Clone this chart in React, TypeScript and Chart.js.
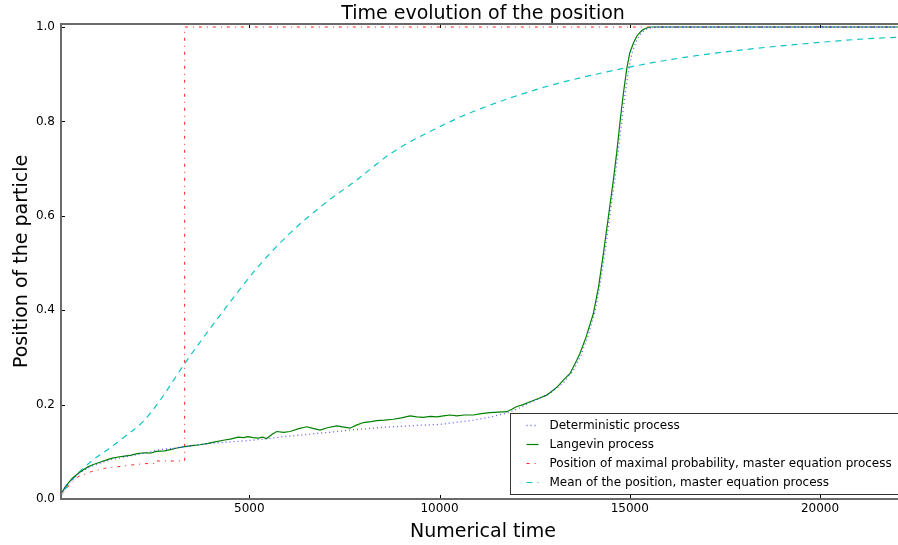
import React, { useEffect, useRef } from "react";
import { Chart, registerables } from "chart.js";

Chart.register(...registerables);

const FONT = "'DejaVu Sans', sans-serif";

const xTicks = [5000, 10000, 15000, 20000];
const yTicks = [0, 0.2, 0.4, 0.6, 0.8, 1.0];

const deterministic: [number, number][] = [
  [0, 0], [60, 0.012], [150, 0.024], [250, 0.034], [500, 0.053], [760, 0.066], [1110, 0.077],
  [1400, 0.084], [1724, 0.089], [2250, 0.097], [2600, 0.104], [3039, 0.108], [3500, 0.113],
  [4001, 0.118], [4500, 0.121], [5018, 0.124], [5500, 0.128], [5894, 0.132], [6400, 0.136],
  [6771, 0.139], [7200, 0.142], [7647, 0.146], [8100, 0.149], [8523, 0.152], [9000, 0.154],
  [9400, 0.156], [10009, 0.158], [10500, 0.163], [10889, 0.167], [11300, 0.173], [11766, 0.182],
  [12050, 0.191], [12292, 0.201], [12600, 0.212], [12905, 0.224], [13255, 0.246], [13518, 0.273],
  [13720, 0.305], [13900, 0.345], [14080, 0.395], [14220, 0.455], [14350, 0.525], [14490, 0.61],
  [14610, 0.68], [14700, 0.74], [14790, 0.8], [14880, 0.86], [14970, 0.91], [15060, 0.945],
  [15150, 0.967], [15250, 0.982], [15350, 0.991], [15450, 0.996], [15600, 0.999], [15750, 1.0],
  [22300, 1.0],
];

const langevin: [number, number][] = [
  [0, 0], [60, 0.012], [150, 0.024], [234, 0.033], [350, 0.044], [497, 0.054], [620, 0.061],
  [760, 0.068], [900, 0.073], [1110, 0.079], [1250, 0.083], [1372, 0.086], [1550, 0.089],
  [1724, 0.091], [1900, 0.093], [2050, 0.096], [2250, 0.098], [2400, 0.097], [2550, 0.101],
  [2775, 0.102], [2950, 0.105], [3100, 0.108], [3301, 0.111], [3500, 0.113], [3700, 0.115],
  [3914, 0.118], [4100, 0.121], [4353, 0.125], [4500, 0.127], [4703, 0.131], [4850, 0.13],
  [4966, 0.132], [5100, 0.13], [5229, 0.129], [5350, 0.131], [5456, 0.128], [5600, 0.137],
  [5720, 0.143], [5900, 0.141], [6070, 0.143], [6300, 0.149], [6509, 0.153], [6650, 0.15],
  [6859, 0.146], [7050, 0.151], [7297, 0.155], [7450, 0.153], [7647, 0.15], [7800, 0.156],
  [7997, 0.162], [8200, 0.164], [8348, 0.166], [8550, 0.167], [8786, 0.169], [9000, 0.172],
  [9225, 0.176], [9400, 0.174], [9575, 0.173], [9750, 0.175], [9926, 0.174], [10100, 0.176],
  [10276, 0.178], [10452, 0.176], [10650, 0.178], [10889, 0.178], [11100, 0.181], [11328, 0.183],
  [11550, 0.184], [11766, 0.185], [11900, 0.19], [12029, 0.196], [12200, 0.2], [12379, 0.206],
  [12600, 0.213], [12817, 0.22], [12992, 0.231], [13100, 0.238], [13255, 0.252], [13430, 0.266],
  [13606, 0.294], [13693, 0.309], [13850, 0.343], [14043, 0.393], [14180, 0.45], [14306, 0.52],
  [14450, 0.605], [14569, 0.676], [14658, 0.735], [14745, 0.8], [14833, 0.86], [14921, 0.912],
  [15000, 0.945], [15096, 0.966], [15180, 0.98], [15272, 0.989], [15360, 0.995], [15447, 0.998],
  [15550, 1.0], [22300, 1.0],
];

const maxProbability: [number, number][] = [
  [0, 0], [100, 0.012], [234, 0.026], [497, 0.047], [847, 0.058], [1198, 0.065], [1504, 0.068],
  [1898, 0.072], [2250, 0.075], [2500, 0.075], [2510, 0.0805], [3300, 0.0805], [3300, 1.0],
  [22300, 1.0],
];

const meanPosition: [number, number][] = [
  [0, 0], [150, 0.02], [410, 0.047], [891, 0.083], [1198, 0.1], [1724, 0.132], [2205, 0.164],
  [2600, 0.203], [3301, 0.287], [4265, 0.393], [5229, 0.492], [6106, 0.566], [6982, 0.626],
  [7857, 0.678], [8733, 0.733], [10009, 0.789], [10889, 0.821], [12642, 0.87], [14395, 0.905],
  [16146, 0.932], [17900, 0.951], [19653, 0.965], [21404, 0.976], [22300, 0.979],
];

const toPts = (arr: [number, number][]) => arr.map(([x, y]) => ({ x, y }));

const framePlugin = {
  id: "frame",
  afterDatasetsDraw(chart: any) {
    const { ctx, chartArea: a, scales } = chart;
    ctx.save();
    ctx.strokeStyle = "#000";
    ctx.lineWidth = 1;
    ctx.beginPath();
    for (const t of scales.x.ticks) {
      const px = Math.round(scales.x.getPixelForValue(t.value)) + 0.5;
      ctx.moveTo(px, a.bottom);
      ctx.lineTo(px, a.bottom - 4);
      ctx.moveTo(px, a.top);
      ctx.lineTo(px, a.top + 4);
    }
    for (const t of scales.y.ticks) {
      const py = Math.round(scales.y.getPixelForValue(t.value)) + 0.5;
      ctx.moveTo(a.left, py);
      ctx.lineTo(a.left + 4, py);
      ctx.moveTo(a.right, py);
      ctx.lineTo(a.right - 4, py);
    }
    ctx.stroke();
    ctx.strokeStyle = "#6a6a6a";
    ctx.lineWidth = 2;
    ctx.strokeRect(a.left, a.top, a.right - a.left, a.bottom - a.top);
    ctx.restore();
  },
  afterDraw(chart: any) {
    const { ctx, chartArea: a } = chart;
    const ds = chart.data.datasets;
    ctx.save();
    ctx.font = `12px ${FONT}`;
    let maxW = 0;
    for (const d of ds) maxW = Math.max(maxW, ctx.measureText(d.label).width);
    const right = a.right - 5;
    const left = Math.round(right - (39 + maxW + 9)) + 0.5;
    const bottom = Math.round(a.bottom - 5) + 0.5;
    const rowH = 19;
    const height = 81;
    const top = bottom - height;
    ctx.fillStyle = "#fff";
    ctx.fillRect(left, top, right - left, height);
    ctx.strokeStyle = "#333";
    ctx.lineWidth = 1;
    ctx.strokeRect(left, top, right - left + 20, height);
    ds.forEach((d: any, i: number) => {
      const y = Math.round(top + 11 + i * rowH) + 0.5;
      ctx.save();
      ctx.strokeStyle = d.borderColor;
      ctx.lineWidth = d.borderWidth;
      ctx.setLineDash(d.borderDash || []);
      ctx.beginPath();
      ctx.moveTo(left + 16, y);
      ctx.lineTo(left + 28, y);
      ctx.stroke();
      ctx.restore();
      ctx.fillStyle = "#000";
      ctx.textBaseline = "middle";
      ctx.textAlign = "left";
      ctx.fillText(d.label, left + 39, y);
    });
    ctx.restore();
  },
};

export default function App() {
  const ref = useRef<HTMLCanvasElement | null>(null);
  useEffect(() => {
    if (!ref.current) return;
    Chart.defaults.font.family = FONT;
    const chart = new Chart(ref.current, {
      type: "line",
      data: {
        datasets: [
          {
            label: "Deterministic process",
            data: toPts(deterministic),
            borderColor: "rgba(40,40,255,0.75)",
            borderWidth: 1.3,
            borderDash: [1, 3],
            pointRadius: 0,
            tension: 0,
          },
          {
            label: "Langevin process",
            data: toPts(langevin),
            borderColor: "#008000",
            borderWidth: 1.2,
            pointRadius: 0,
            tension: 0,
          },
          {
            label: "Position of maximal probability, master equation process",
            data: toPts(maxProbability),
            borderColor: "#ff2020",
            borderWidth: 1,
            borderDash: [3, 5, 1, 5],
            pointRadius: 0,
            tension: 0,
          },
          {
            label: "Mean of the position, master equation process",
            data: toPts(meanPosition),
            borderColor: "#10c4c4",
            borderWidth: 1.2,
            borderDash: [6, 5],
            pointRadius: 0,
            cubicInterpolationMode: "monotone",
          },
        ] as any,
      },
      options: {
        animation: false,
        responsive: false,
        layout: { padding: { left: 0, right: 15, top: 0, bottom: 0 } },
        plugins: {
          legend: { display: false },
          tooltip: { enabled: false },
          title: {
            display: true,
            text: "Time evolution of the position",
            fullSize: false,
            color: "#000",
            font: { family: FONT, size: 19, weight: "normal", lineHeight: 1.0 },
            padding: { top: 5, bottom: 0 },
          },
        },
        scales: {
          x: {
            type: "linear",
            min: 50,
            max: 22234,
            afterBuildTicks: (s: any) => {
              s.ticks = xTicks.map((v) => ({ value: v }));
            },
            afterFit: (s: any) => {
              s.height = 46;
            },
            grid: { display: false, drawTicks: false },
            border: { display: false },
            ticks: {
              color: "#000",
              font: { family: FONT, size: 12 },
              padding: 3,
              maxRotation: 0,
              autoSkip: false,
              callback: (v: any) => String(v),
            },
            title: {
              display: true,
              text: "Numerical time",
              color: "#000",
              font: { family: FONT, size: 19 },
              padding: { top: 0, bottom: 2 },
            },
          },
          y: {
            type: "linear",
            min: 0,
            max: 1.0064,
            afterBuildTicks: (s: any) => {
              s.ticks = yTicks.map((v) => ({ value: v }));
            },
            afterFit: (s: any) => {
              s.width = 61;
            },
            grid: { display: false, drawTicks: false },
            border: { display: false },
            ticks: {
              color: "#000",
              font: { family: FONT, size: 12 },
              padding: 6,
              autoSkip: false,
              callback: (v: any) => Number(v).toFixed(1),
            },
            title: {
              display: true,
              text: "Position of the particle",
              color: "#000",
              font: { family: FONT, size: 19 },
              padding: { top: 11, bottom: 0 },
            },
          },
        },
      },
      plugins: [framePlugin],
    });
    return () => chart.destroy();
  }, []);
  return (
    <div style={{ position: "fixed", left: 0, top: 0, width: 898, height: 545, overflow: "hidden", background: "#fff" }}>
      <canvas ref={ref} width={920} height={545} style={{ display: "block" }} />
    </div>
  );
}
